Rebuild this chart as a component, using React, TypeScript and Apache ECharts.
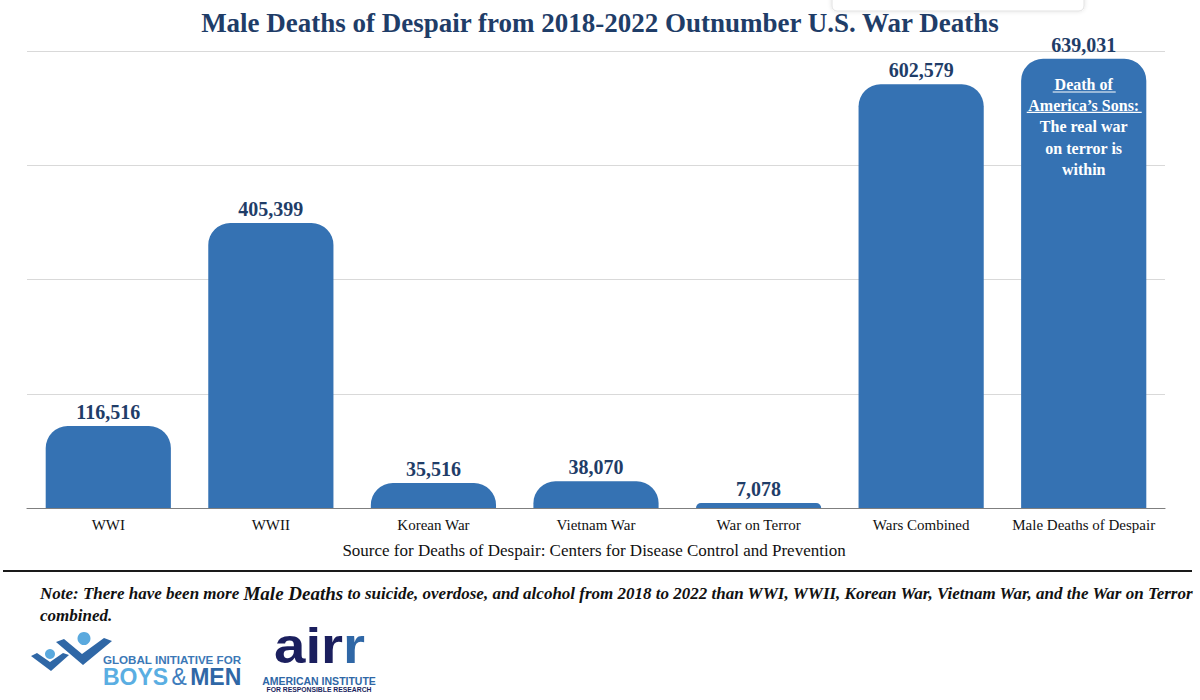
import React, { useEffect, useRef } from "react";
import * as echarts from "echarts";

const categories = [
  "WWI",
  "WWII",
  "Korean War",
  "Vietnam War",
  "War on Terror",
  "Wars Combined",
  "Male Deaths of Despair",
];
const deaths = [116516, 405399, 35516, 38070, 7078, 602579, 639031];
const yTicks = { min: 0, max: 650000, interval: 162500 };

const titleText = "Male Deaths of Despair from 2018-2022 Outnumber U.S. War Deaths";
const sourceText = "Source for Deaths of Despair: Centers for Disease Control and Prevention";
const annotationLines = ["Death of", "America\u2019s Sons:", "The real war", "on terror is", "within"];

const NAVY = "#1f3d68";
const BAR = "#3572b3";
const SERIF = "'Liberation Serif', 'DejaVu Serif', serif";
const SANS = "'Liberation Sans', Arial, sans-serif";

export default function App() {
  const ref = useRef<HTMLDivElement>(null);

  useEffect(() => {
    if (!ref.current) return;
    const chart = echarts.init(ref.current, undefined, { renderer: "svg" });

    const gridLeft = 27;
    const gridRight = 35;
    const plotW = 1200 - gridLeft - gridRight;
    const annX = gridLeft + (6.5 * plotW) / categories.length;
    const annY0 = 84;
    const annStep = 21.4;

    const annotation: any[] = annotationLines.map((t, i) => ({
      type: "text",
      x: annX,
      y: annY0 + i * annStep,
      style: {
        text: t,
        fill: "#ffffff",
        font: `bold 16px ${SERIF}`,
        textAlign: "center",
        textVerticalAlign: "middle",
      },
      z: 100,
    }));
    annotation.push(
      {
        type: "line",
        shape: { x1: annX - 31, y1: annY0 + 8, x2: annX + 32, y2: annY0 + 8 },
        style: { stroke: "#ffffff", lineWidth: 1.2 },
        z: 100,
      },
      {
        type: "line",
        shape: { x1: annX - 57, y1: annY0 + annStep + 7, x2: annX + 58, y2: annY0 + annStep + 7 },
        style: { stroke: "#ffffff", lineWidth: 1.2 },
        z: 100,
      }
    );

    const airrSize = 50;
    const airWidth = (0.556 + 0.278 + 0.389) * airrSize;

    const logos: any[] = [
      {
        type: "polygon",
        shape: { points: [[56, 642], [64, 639], [82, 654], [104, 638], [112, 641], [83, 665]] },
        style: { fill: "#2f67a6" },
      },
      {
        type: "polygon",
        shape: { points: [[31, 656], [37, 653], [50, 662], [63, 653], [69, 655], [51, 671]] },
        style: { fill: "#2f67a6" },
      },
      { type: "circle", shape: { cx: 84, cy: 638.5, r: 6.5 }, style: { fill: "#5aa9de" } },
      { type: "circle", shape: { cx: 50, cy: 654, r: 5 }, style: { fill: "#5aa9de" } },
      {
        type: "text",
        x: 103,
        y: 659,
        style: {
          text: "GLOBAL INITIATIVE FOR",
          font: `bold 11.6px ${SANS}`,
          fill: "#3b78b6",
          textVerticalAlign: "middle",
        },
      },
      {
        type: "text",
        x: 103,
        y: 677,
        style: {
          text: "{a|BOYS} {b|&} {c|MEN}",
          textVerticalAlign: "middle",
          rich: {
            a: { font: `bold 23px ${SANS}`, fill: "#5aaee2", color: "#5aaee2" },
            b: { font: `23px ${SANS}`, fill: "#3e7dbd", color: "#3e7dbd" },
            c: { font: `bold 23px ${SANS}`, fill: "#2f67a6", color: "#2f67a6" },
          },
        } as any,
      },
      {
        type: "group",
        x: 274,
        y: 0,
        scaleX: 1.13,
        children: [
          {
            type: "text",
            x: 0,
            y: 646,
            style: {
              text: "air",
              font: `bold ${airrSize}px ${SANS}`,
              fill: "#1b1f5e",
              textVerticalAlign: "middle",
            },
          },
          {
            type: "text",
            x: airWidth,
            y: 646,
            style: {
              text: "r",
              font: `bold ${airrSize}px ${SANS}`,
              fill: "#2f67a6",
              textVerticalAlign: "middle",
            },
          },
        ],
      },
      {
        type: "text",
        x: 319,
        y: 680.5,
        style: {
          text: "AMERICAN INSTITUTE",
          font: `bold 10.5px ${SANS}`,
          fill: "#2f67a6",
          textAlign: "center",
          textVerticalAlign: "middle",
        },
      },
      {
        type: "text",
        x: 319,
        y: 689,
        style: {
          text: "FOR RESPONSIBLE RESEARCH",
          font: `bold 6.8px ${SANS}`,
          fill: "#1b1f5e",
          textAlign: "center",
          textVerticalAlign: "middle",
        },
      },
    ];

    chart.setOption({
      animation: false,
      backgroundColor: "#ffffff",
      title: {
        text: titleText,
        left: "center",
        top: 4,
        textStyle: {
          fontFamily: SERIF,
          fontWeight: "bold",
          fontSize: 27,
          color: NAVY,
        },
      },
      grid: { left: gridLeft, right: gridRight, top: 51, bottom: 192, containLabel: false },
      xAxis: {
        type: "category",
        data: categories,
        axisLine: { lineStyle: { color: "#7f7f7f", width: 1.2 } },
        axisTick: { show: false },
        axisLabel: {
          color: "#111111",
          fontFamily: SERIF,
          fontSize: 15,
          margin: 9,
          interval: 0,
        },
      },
      yAxis: {
        type: "value",
        min: yTicks.min,
        max: yTicks.max,
        interval: yTicks.interval,
        axisLabel: { show: false },
        axisLine: { show: false },
        axisTick: { show: false },
        splitLine: { lineStyle: { color: "#d9d9d9", width: 1.2 } },
      },
      series: [
        {
          type: "bar",
          data: deaths,
          barCategoryGap: "23%",
          itemStyle: { color: BAR, borderRadius: [22, 22, 0, 0] },
          label: {
            show: true,
            position: "top",
            distance: 4,
            fontFamily: SERIF,
            fontWeight: "bold",
            fontSize: 20,
            color: NAVY,
            formatter: (p: any) => Number(p.value).toLocaleString("en-US"),
          },
        },
      ],
      graphic: [
        {
          type: "rect",
          shape: { x: 832, y: -8, width: 252, height: 19, r: 5 },
          style: {
            fill: "#ffffff",
            stroke: "#e2e2e2",
            lineWidth: 1,
            shadowBlur: 4,
            shadowColor: "rgba(0,0,0,0.12)",
          },
        },
        ...annotation,
        {
          type: "text",
          x: 594,
          y: 550,
          style: {
            text: sourceText,
            font: `17px ${SERIF}`,
            fill: "#111111",
            textAlign: "center",
            textVerticalAlign: "middle",
          },
        },
        {
          type: "line",
          shape: { x1: 3, y1: 571, x2: 1192, y2: 571 },
          style: { stroke: "#1a1a1a", lineWidth: 2 },
        },
        {
          type: "text",
          x: 40,
          y: 593,
          style: {
            text:
              "{a|Note: There have been more }{b|Male Deaths}{a| to suicide, overdose, and alcohol from 2018 to 2022 than WWI, WWII, Korean War, Vietnam War, and the War on Terror}",
            textVerticalAlign: "middle",
            rich: {
              a: { font: `italic bold 17px ${SERIF}`, fill: "#111111", color: "#111111" },
              b: { font: `italic bold 19px ${SERIF}`, fill: "#111111", color: "#111111" },
            },
          } as any,
        },
        {
          type: "text",
          x: 40,
          y: 615,
          style: {
            text: "combined.",
            font: `italic bold 17px ${SERIF}`,
            fill: "#111111",
            textVerticalAlign: "middle",
          },
        },
        ...logos,
      ],
    });

    return () => chart.dispose();
  }, []);

  return (
    <div
      ref={ref}
      style={{ position: "fixed", left: 0, top: 0, width: 1200, height: 700, background: "#fff" }}
    />
  );
}
